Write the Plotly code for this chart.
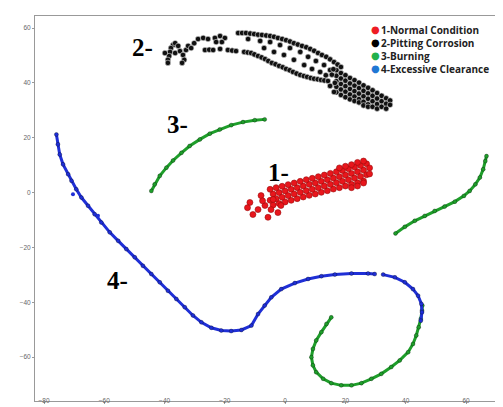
import plotly.graph_objects as go

# ---------------- data ----------------
class_names = ["1-Normal Condition", "2-Pitting Corrosion", "3-Burning", "4-Excessive Clearance"]
class_colors = ["#e8161c", "#111111", "#1e9e2a", "#1f2fd6"]
legend_colors = ["#ee1c24", "#000000", "#22b14c", "#1f77d4"]

# class 1 (red cluster)
red_x = [-4, -2, 0, 2, 4, 6, 8, 10, 12, 14, 16, 18, 20, 22, 24, 26,
         -4, -2, 0, 2, 4, 6, 8, 10, 12, 14, 16, 18, 20, 22, 24, 26,
         -5, -3, -1, 1, 3, 5, 7, 9, 11, 13, 15, 17, 19, 21, 23, 25, 27,
         -5, -3, -1, 1, 3, 5, 7, 9, 11, 13, 15, 17, 19, 21, 23, 25, 27,
         18, 20, 22, 24, 26, 28, 28, 26, 24, 22,
         -11.7, -10.7, -9, -8, -5.7, -6.7, -4.7, -2.4, -4, -1.4, -7.5, -12.5]
red_y = [-4.5, -4.0, -3.4, -2.8, -2.2, -1.6, -1.0, -0.5, 0.1, 0.7, 1.3, 1.8, 2.4, 3.0, 3.6, 4.2,
         -0.5, 0.0, 0.6, 1.2, 1.8, 2.4, 3.0, 3.5, 4.1, 4.7, 5.3, 5.8, 6.4, 7.0, 7.6, 8.2,
         -2.8, -2.2, -1.7, -1.1, -0.5, 0.1, 0.7, 1.2, 1.8, 2.4, 3.0, 3.6, 4.1, 4.7, 5.3, 5.9, 6.5,
         1.2, 1.8, 2.3, 2.9, 3.5, 4.1, 4.7, 5.2, 5.8, 6.4, 7.0, 7.6, 8.1, 8.7, 9.3, 9.9, 10.5,
         9.0, 9.6, 10.2, 11.0, 11.5, 9.0, 6.8, 3.5, 2.4, 1.8,
         -3.6, -8.0, -6.2, -1.1, -9.0, -4.7, -6.2, -7.3, -2.5, -4.7, -3.0, -5.5]

# class 2 (black cluster): head + tail
black_x = [17, 17, 17, 17, 17, 18.5, 18.5, 18.5, 18.5, 18.5, 20, 20, 20, 20, 20,
           21.5, 21.5, 21.5, 21.5, 21.5, 23, 23, 23, 23, 23, 24.5, 24.5, 24.5, 24.5, 24.5,
           26, 26, 26, 26, 26, 27.5, 27.5, 27.5, 27.5, 27.5, 29, 29, 29, 29,
           30.5, 30.5, 30.5, 30.5, 32, 32, 32, 33.5, 33.5, 33.5, 34.8, 34.8,
           -37.2, -37.9, -38.2, -38.5, -38.9, -38.9, -36.5, -39.9, -36.5, -35.5, -34.9, -33.9,
           -32.9, -32.2, -33.5, -34.2, -31.2, -30.2, -28.9, -27.2, -25.6, -23.3, -21.6, -20,
           -21, -22.9,
           -26.6, -25.2, -23.9, -21.6, -19, -17.6, -16.3, -13.6, -12.4, -11.3, -10.2, -9, -7.8,
           -6.7, -5.6, -4.4, -3.2, -2, -0.8, 0.3, 1.5, 2.6, 3.8, 5, 6.2, 7.3, 8.5, 9.6, 10.8,
           11.9, 13, 14.2, 16.5, 14.9, 16.2,
           -15.6, -14.3, -13, -11.6, -10.3, -9, -7.7, -6.3, -5, -3.7, -2.4, -1, 0.3, 1.6, 2.9,
           4.2, 5.6, 7, 8.3, 9.6, 10.9, 12.2, 13.6, 14.9, 16.2, 17.4, 18.5,
           -12.3, -8.3, -5, -1.7, 1.6, 5, 7.6, 10.2, 12.9, 14.9,
           -7, -3.7, -0.4, 2.9, 6.3, 8.9, 11.6, 15.5, 13.5, 16]
black_y = [44.6, 42.6, 40.6, 38.6, 36.6, 43.6, 41.6, 39.6, 37.6, 35.6, 42.8, 40.8, 38.8, 36.8, 34.8,
           41.8, 39.8, 37.8, 35.8, 34.0, 41.0, 39.0, 37.0, 35.0, 33.4, 40.1, 38.1, 36.1, 34.1, 32.9,
           39.1, 37.1, 35.1, 33.1, 31.8, 38.2, 36.2, 34.2, 32.2, 31.3, 37.3, 35.3, 33.3, 31.3,
           36.3, 34.3, 32.3, 30.6, 35.3, 33.3, 31.3, 34.4, 32.4, 30.6, 33.6, 32.0,
           53.8, 52.7, 51.3, 49.8, 48.4, 47.3, 54.5, 50.9, 50.9, 53.5, 51.6, 50.2,
           52.0, 53.5, 48.4, 47.3, 52.7, 54.5, 56.0, 56.4, 56.0, 56.4, 57.1, 56.4,
           54.9, 54.9,
           52.0, 52.1, 52.0, 52.4, 52.0, 51.8, 51.6, 51.3, 51.1, 50.9, 50.4, 49.8, 49.3,
           48.7, 48.0, 47.3, 46.8, 46.2, 45.7, 45.1, 44.6, 44.0, 43.4, 42.9, 42.5, 42.2, 41.8, 41.5, 41.3,
           41.1, 40.9, 40.7, 40.0, 38.9, 36.7,
           58.2, 58.2, 58.2, 58.0, 57.8, 57.6, 57.5, 57.3, 57.1, 56.8, 56.4, 56.0, 55.6, 55.1, 54.5,
           54.0, 53.5, 53.0, 52.4, 51.7, 50.9, 50.2, 49.5, 48.6, 47.6, 46.7, 45.8,
           56.0, 55.3, 54.9, 53.8, 52.7, 51.3, 49.5, 48.0, 46.5, 44.7,
           52.7, 51.3, 50.2, 48.4, 46.5, 45.1, 44.0, 43.0, 42.8, 45.0]

# class 3 (green curves), segments separated by None
green_x = [-44.4, -43.3, -41.6, -39.4, -37.2, -34.4, -31.7, -28.3, -25, -21.7, -17.9, -14, -10.1, -6.8, None,
           36.6, 39.7, 43, 46.3, 49.6, 52.9, 56.3, 59.3, 61.2, 63.1, 64.6, 65.7, 66.4, 66.8, None,
           15.3, 13.7, 12, 10.3, 9.2, 8.7, 9.2, 10.3, 12.6, 15.3, 18.6, 22, 25.3, 28.6, 31.9, 35.2,
           38, 40.8, 42.4, 43.5, 44.3, 45, 45.4, 45.5]
green_y = [0.6, 3, 6.1, 9.1, 11.7, 14.5, 17, 19.4, 21.5, 23, 24.6, 25.7, 26.4, 26.7, None,
           -14.9, -12.5, -10.3, -8.5, -6.7, -5.1, -3.3, -1.2, 0.6, 3, 5.5, 8.5, 11.5, 13.3, None,
           -45.5, -47.9, -50.9, -53.9, -57, -60, -63, -65.5, -67.9, -69.5, -70.3, -70.3, -69.5, -67.9,
           -66.1, -63.6, -61.2, -58.2, -55.2, -52.1, -49.1, -46.1, -43, -41.2]

# class 4 (blue curve), gap marked by None
blue_x = [-75.9, -75.4, -74.8, -73.7, -72, -70.9, -69.3, -67.6, -65.4, -63.2, -61, -58.2, -55.4,
          -52.7, -49.9, -47.2, -44.4, -41.6, -38.9, -36.1, -33.3, -30.6, -27.8, -24.5, -21.2,
          -17.9, -14.5, -11.2, -9, -6.8, -4.6, -1.3, 3.2, 7.6, 12, 16.5, 22, 27.5, 29.7, None,
          32.5, 36.4, 39.7, 42.4, 44.1, 45.2, 45.4, 45]
blue_y = [21.2, 17.6, 13.9, 10.3, 6.7, 4.3, 1.2, -1.8, -4.8, -7.9, -10.9, -14.5, -17.6,
          -20.6, -23.6, -26.7, -29.7, -32.7, -35.8, -38.8, -41.8, -44.8, -47.3, -49.3, -50.3,
          -50.5, -50.1, -48.5, -44.3, -41.2, -38.2, -35.2, -33, -31.5, -30.5, -29.9, -29.5, -29.5, -29.7, None,
          -29.9, -30.9, -32.7, -35.2, -37.6, -40.6, -43.6, -46.7]
blue_out_x = [-70.4, -62.1]
blue_out_y = [-0.6, -8.4]

label_text = ["1-", "2-", "3-", "4-"]
label_x = [-6.2, -51.6, -40.0, -59.9]
label_y = [5.1, 50.9, 22.6, -34.2]

x_ticks = [-80, -60, -40, -20, 0, 20, 40, 60]
y_ticks = [-60, -40, -20, 0, 20, 40, 60]

# ---------------- figure ----------------
W, H = 503, 407
ML, MR, MT, MB = 27, 4, 8, 14

fig = go.Figure()

for xs, ys, col in [(green_x, green_y, class_colors[2]), (blue_x, blue_y, class_colors[3])]:
    fig.add_trace(go.Scatter(x=xs, y=ys, mode="lines+markers", showlegend=False,
                             line=dict(color=col, width=3),
                             marker=dict(size=4, color=col, line=dict(width=0.6, color="rgba(0,0,0,0.5)")),
                             hoverinfo="skip"))
fig.add_trace(go.Scatter(x=blue_out_x, y=blue_out_y, mode="markers", showlegend=False,
                         marker=dict(size=4, color=class_colors[3])))

fig.add_trace(go.Scatter(x=black_x, y=black_y, mode="markers", showlegend=False, name=class_names[1],
                         marker=dict(size=5.5, color=class_colors[1], line=dict(width=0.6, color="#dddddd"))))
fig.add_trace(go.Scatter(x=red_x, y=red_y, mode="markers", showlegend=False, name=class_names[0],
                         marker=dict(size=6, color=class_colors[0], line=dict(width=0.6, color="#9a0a0a"))))

# cluster labels
for t, x, y in zip(label_text, label_x, label_y):
    fig.add_annotation(x=x, y=y, text="<b>" + t + "</b>", showarrow=False, xanchor="left",
                       yanchor="middle", yshift=6,
                       font=dict(family="Liberation Serif", size=25, color="#000000"))

# legend (drawn as text: one block of dots, one block of names)
plot_w = W - ML - MR
plot_h = H - MT - MB
legend_center_px = 41
yp = 1 - (legend_center_px - MT) / plot_h
dots = "<br>".join("<span style='color:%s'>●</span>" % c for c in legend_colors)
names = "<br>".join("<b>%s</b>" % n for n in class_names)
fig.add_annotation(xref="paper", yref="paper", x=(367 - ML) / plot_w, y=yp,
                   text=dots, showarrow=False, xanchor="center", yanchor="middle", align="center",
                   borderpad=0, font=dict(family="DejaVu Sans", size=10, color="#000000"))
fig.add_annotation(xref="paper", yref="paper", x=(372 - ML) / plot_w, y=yp,
                   text=names, showarrow=False, xanchor="left", yanchor="middle", align="left",
                   borderpad=0, font=dict(family="Open Sans", size=10, color="#222222"))

fig.update_layout(
    width=W, height=H,
    margin=dict(l=ML, r=MR, t=MT, b=MB),
    paper_bgcolor="white", plot_bgcolor="white",
    showlegend=False,
)
axis_common = dict(showgrid=False, zeroline=False, showline=True, mirror=True,
                   linecolor="#999999", linewidth=1, ticks="outside", ticklen=2,
                   tickcolor="#999999", tickfont=dict(family="Liberation Sans", size=6.5, color="#666666"))
fig.update_xaxes(range=[-83, 73.6], tickvals=x_ticks, ticklabelstandoff=-9, **axis_common)
fig.update_yaxes(range=[-76, 64.4], tickvals=y_ticks, **axis_common)

fig.write_html("out.html")
